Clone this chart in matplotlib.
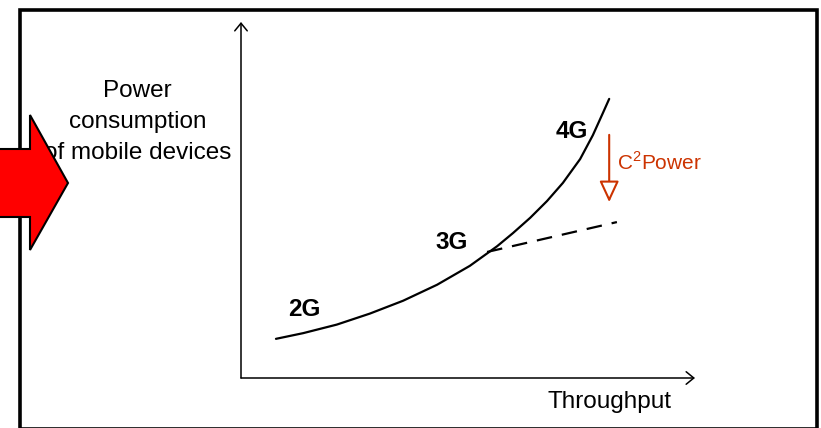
import matplotlib
matplotlib.use("Agg")
import matplotlib.pyplot as plt
from matplotlib.patches import Polygon, Rectangle, FancyArrowPatch

plt.rcParams['font.family'] = ['Liberation Sans', 'DejaVu Sans']
plt.rcParams['mathtext.fontset'] = 'custom'
plt.rcParams['mathtext.rm'] = 'Liberation Sans'

# power vs throughput curve (arbitrary units)
throughput = [0.77, 1.37, 2.11, 2.84, 3.57, 4.32, 5.04, 5.64, 5.99, 6.37,
              6.74, 7.09, 7.47, 7.75, 7.97, 8.11]
power = [1.10, 1.26, 1.50, 1.81, 2.17, 2.62, 3.15, 3.70, 4.07, 4.50,
         4.97, 5.48, 6.15, 6.82, 7.44, 7.84]

# reduced-power trend past 3G
saving_x = [5.42, 8.28]
saving_y = [3.54, 4.38]

# vertical saving arrow (start, end power) at this throughput
saving_arrow_x = 8.11
saving_arrow_y = [6.83, 4.94]

generations = ['2G', '3G', '4G']
gen_x = [1.04, 4.29, 6.94]
gen_y = [1.74, 3.63, 6.73]

ylabel_lines = ['Power', 'consumption', 'of mobile devices']
xlabel = 'Throughput'
saving_label = 'C$^{\\mathrm{2}}$Power'

W, H = 821, 428
fig = plt.figure(figsize=(W / 100, H / 100), dpi=100)
fig.patch.set_facecolor('white')

# pixel canvas for frame, labels and the big arrow
canvas = fig.add_axes([0, 0, 1, 1])
canvas.set_xlim(0, W)
canvas.set_ylim(H, 0)
canvas.axis('off')

canvas.add_patch(Rectangle((20, 9.5), 796.5, 419, fill=False,
                           edgecolor='black', lw=2.6, zorder=1))

# chart axes
ax = fig.add_axes([241 / W, 50 / H, 454 / W, 356 / H])
ax.set_xlim(0, 10)
ax.set_ylim(0, 10)
ax.axis('off')
ax.patch.set_alpha(0)

for end in [(0, 1), (1, 0)]:
    ax.annotate('', xy=end, xytext=(0, 0), xycoords='axes fraction',
                arrowprops=dict(arrowstyle='->,head_length=0.55,head_width=0.45',
                                lw=1.1, color='black', shrinkA=0, shrinkB=0),
                annotation_clip=False)

ax.plot(throughput, power, color='black', lw=1.6, solid_capstyle='round',
        solid_joinstyle='round', clip_on=False)
ax.plot(saving_x, saving_y, color='black', lw=1.6, linestyle=(0, (7, 4.5)),
        clip_on=False)

red = '#CC3300'
ax.add_patch(FancyArrowPatch((saving_arrow_x, saving_arrow_y[0]),
                             (saving_arrow_x, saving_arrow_y[1]),
                             arrowstyle='-|>,head_length=1.3,head_width=0.6',
                             mutation_scale=10, lw=1.5, edgecolor=red,
                             facecolor='white', shrinkA=0, shrinkB=0,
                             clip_on=False))

for label, gx, gy in zip(generations, gen_x, gen_y):
    ax.text(gx, gy, label, fontsize=17.5, fontweight='bold', ha='left',
            va='baseline')

canvas.text(617, 170, saving_label, color=red, fontsize=15, ha='left',
            va='baseline')

for i, line in enumerate(ylabel_lines):
    canvas.text(137.5, 96.7 + 31 * i, line, fontsize=17.5, ha='center',
                va='baseline', zorder=2)

canvas.text(547, 408, xlabel, fontsize=17.5, ha='left', va='baseline')

# big red arrow on the left edge
canvas.add_patch(Polygon([(-5, 149), (30, 149), (30, 115), (68, 183),
                          (30, 250), (30, 217), (-5, 217)], closed=True,
                         facecolor='#FF0000', edgecolor='black', lw=1.5,
                         zorder=3))

fig.savefig('out.png', dpi=100)
